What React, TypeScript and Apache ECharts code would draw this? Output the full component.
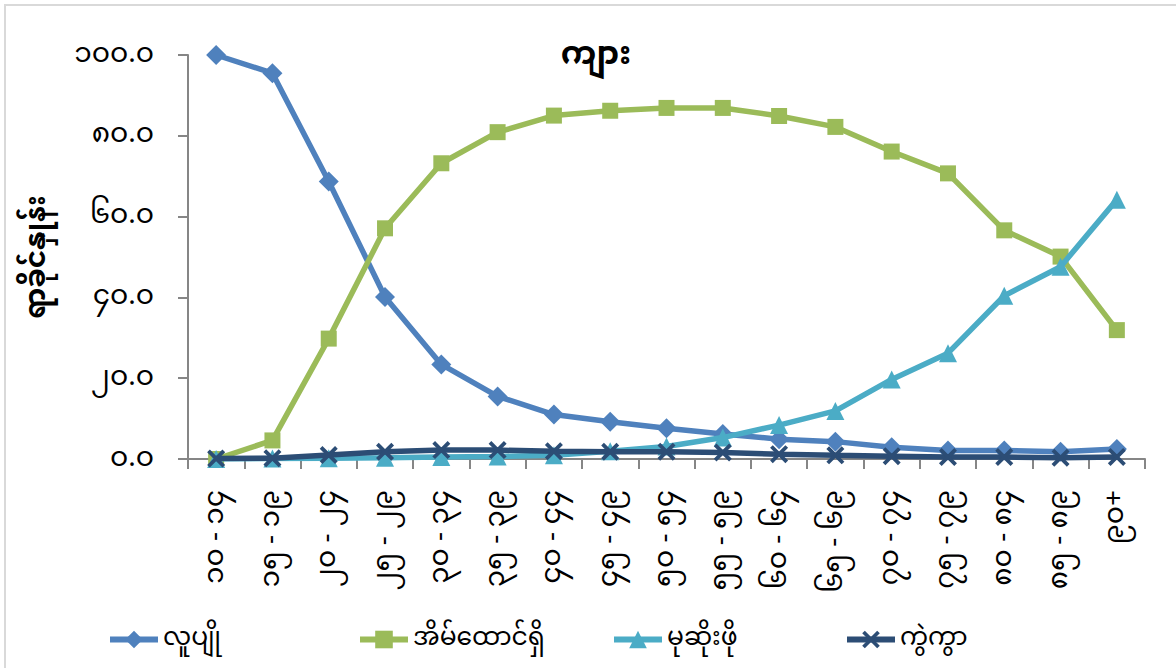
import React, { useEffect, useRef } from "react";
import * as echarts from "echarts";

const categories = [
  "၁၀ - ၁၄", "၁၅ - ၁၉", "၂၀ - ၂၄", "၂၅ - ၂၉", "၃၀ - ၃၄", "၃၅ - ၃၉",
  "၄၀ - ၄၄", "၄၅ - ၄၉", "၅၀ - ၅၄", "၅၅ - ၅၉", "၆၀ - ၆၄", "၆၅ - ၆၉",
  "၇၀ - ၇၄", "၇၅ - ၇၉", "၈၀ - ၈၄", "၈၅ - ၈၉", "၉၀+",
];
const seriesNames = ["လူပျို", "အိမ်ထောင်ရှိ", "မုဆိုးဖို", "ကွဲကွာ"];
const single = [100.0, 95.5, 68.7, 40.1, 23.4, 15.5, 11.0, 9.2, 7.6, 6.2, 4.9, 4.3, 2.9, 2.1, 2.1, 1.8, 2.5];
const married = [0.0, 4.6, 29.8, 57.1, 73.2, 80.9, 85.0, 86.2, 86.9, 86.9, 84.9, 82.2, 76.1, 70.7, 56.6, 50.1, 31.9];
const widowed = [0.0, 0.1, 0.2, 0.3, 0.5, 0.6, 0.9, 1.9, 3.1, 5.3, 8.4, 11.9, 19.7, 26.2, 40.4, 47.6, 64.2];
const divorced = [0.1, 0.2, 1.0, 1.8, 2.2, 2.2, 1.9, 1.8, 1.8, 1.6, 1.2, 0.9, 0.7, 0.5, 0.5, 0.3, 0.5];
const yTickLabels = ["၀.၀", "၂၀.၀", "၄၀.၀", "၆၀.၀", "၈၀.၀", "၁၀၀.၀"];
const titleText = "ကျား";
const yAxisName = "ရာခိုင်နှုန်း";

const colors = ["#4F81BD", "#9BBB59", "#4BACC6", "#2C4D75"];
const FONT = "'Noto Sans Myanmar', 'Padauk', 'Myanmar Text', 'Noto Sans', sans-serif";
const crossPath =
  "path://M0,1.5 L1.5,0 L10,8.5 L8.5,10 Z M8.5,0 L10,1.5 L1.5,10 L0,8.5 Z";

export default function App() {
  const ref = useRef<HTMLDivElement>(null);
  useEffect(() => {
    if (!ref.current) return;
    const chart = echarts.init(ref.current, undefined, { renderer: "svg" });
    const datas = [single, married, widowed, divorced];
    const symbols = ["diamond", "rect", "triangle", crossPath];
    const sizes = [20, 16, 18, 18];
    const legendLefts = [102, 352, 606, 839];
    chart.setOption({
      animation: false,
      textStyle: { fontFamily: FONT },
      title: {
        text: titleText,
        left: 591,
        textAlign: "center",
        top: 36,
        textStyle: { fontSize: 32, fontWeight: "bold", color: "#000", fontFamily: FONT },
      },
      graphic: [
        {
          type: "rect",
          shape: { x: 5, y: 5, width: 1300, height: 800 },
          style: { fill: "none", stroke: "#d9d9d9", lineWidth: 2 },
          silent: true,
        },
      ],
      legend: seriesNames.map((n, i) => ({
        data: [n],
        left: legendLefts[i],
        top: 622,
        itemWidth: 48,
        itemHeight: 22,
        itemGap: 4,
        lineStyle: { width: 6 },
        textStyle: { fontSize: 25, color: "#000", fontFamily: FONT },
      })),
      grid: { left: 188, right: 31, top: 55, bottom: 209 },
      xAxis: {
        type: "category",
        data: categories,
        boundaryGap: true,
        axisLine: { lineStyle: { color: "#868686", width: 2 } },
        axisTick: { show: true, interval: 0, length: 10, lineStyle: { color: "#868686", width: 2 } },
        axisLabel: { interval: 0, rotate: 90, margin: 31, fontSize: 28, color: "#000", fontFamily: FONT },
      },
      yAxis: {
        type: "value",
        min: 0,
        max: 100,
        interval: 20,
        name: yAxisName,
        nameLocation: "middle",
        nameGap: 136,
        nameTextStyle: { fontSize: 28, fontWeight: "bold", color: "#000", fontFamily: FONT },
        axisLine: { show: true, lineStyle: { color: "#868686", width: 2 } },
        axisTick: { show: true, length: 10, lineStyle: { color: "#868686", width: 2 } },
        splitLine: { show: false },
        axisLabel: {
          margin: 34,
          fontSize: 28,
          color: "#000",
          fontFamily: FONT,
          formatter: (v: number) => yTickLabels[Math.round(v / 20)],
        },
      },
      series: datas.map((d, i) => ({
        name: seriesNames[i],
        type: "line",
        data: d,
        symbol: symbols[i],
        symbolSize: sizes[i],
        showAllSymbol: true,
        lineStyle: { color: colors[i], width: 5.5 },
        itemStyle: { color: colors[i] },
        z: 2 + i,
      })),
    });
    return () => chart.dispose();
  }, []);
  return (
    <div
      ref={ref}
      style={{ position: "absolute", left: 0, top: 0, width: 1176, height: 668, background: "#fff" }}
    />
  );
}
